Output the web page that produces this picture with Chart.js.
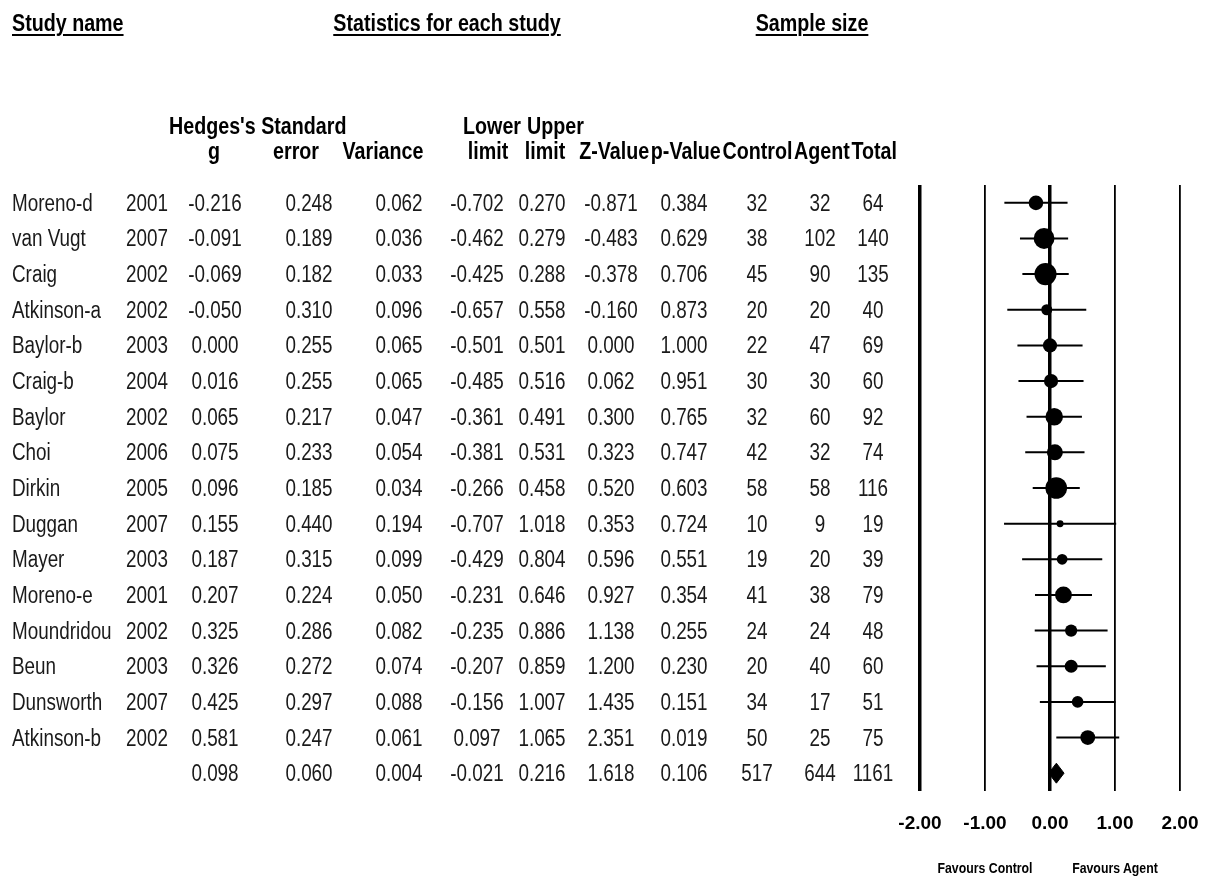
<!DOCTYPE html>
<html>
<head>
<meta charset="utf-8">
<script src="https://cdn.jsdelivr.net/npm/chart.js@4.4.1/dist/chart.umd.min.js"></script>
<style>
  body { margin:0; background:#fff; }
  #wrap { position:relative; width:1216px; height:877px; overflow:hidden;
          font-family:"Liberation Sans",Arial,sans-serif; color:#1a1a1a; }
  #forest { position:absolute; left:0; top:0; }
  .t { position:absolute; white-space:nowrap; font-size:23px; line-height:1;
       transform:translate(-50%,-50%) scaleX(0.82); }
  .l { transform-origin:0 50%; transform:translate(0,-50%) scaleX(0.82); }
  .r { transform-origin:100% 50%; transform:translate(-100%,-50%) scaleX(0.82); }
  .b { font-weight:bold; color:#000; font-size:24px; }
  .h { text-decoration:underline; text-decoration-thickness:2px; text-underline-offset:3px; }
  .fav { font-size:15px; }
  .run span { margin-left:2px; }
</style>
</head>
<body>
<div id="wrap"><canvas id="forest" width="1216" height="877"></canvas></div>
<script>
// Forest plot: Hedges's g por estudio (Control vs Agent)

const studyNames = ['Moreno-d','van Vugt','Craig','Atkinson-a','Baylor-b','Craig-b','Baylor','Choi',
  'Dirkin','Duggan','Mayer','Moreno-e','Moundridou','Beun','Dunsworth','Atkinson-b'];
const studyYears = [2001,2007,2002,2002,2003,2004,2002,2006,2005,2007,2003,2001,2002,2003,2007,2002];
const hedgesG   = [-0.216,-0.091,-0.069,-0.050,0.000,0.016,0.065,0.075,0.096,0.155,0.187,0.207,0.325,0.326,0.425,0.581];
const stdError  = [0.248,0.189,0.182,0.310,0.255,0.255,0.217,0.233,0.185,0.440,0.315,0.224,0.286,0.272,0.297,0.247];
const variance  = [0.062,0.036,0.033,0.096,0.065,0.065,0.047,0.054,0.034,0.194,0.099,0.050,0.082,0.074,0.088,0.061];
const lowerLimit = [-0.702,-0.462,-0.425,-0.657,-0.501,-0.485,-0.361,-0.381,-0.266,-0.707,-0.429,-0.231,-0.235,-0.207,-0.156,0.097];
const upperLimit = [0.270,0.279,0.288,0.558,0.501,0.516,0.491,0.531,0.458,1.018,0.804,0.646,0.886,0.859,1.007,1.065];
const zValue    = [-0.871,-0.483,-0.378,-0.160,0.000,0.062,0.300,0.323,0.520,0.353,0.596,0.927,1.138,1.200,1.435,2.351];
const pValue    = [0.384,0.629,0.706,0.873,1.000,0.951,0.765,0.747,0.603,0.724,0.551,0.354,0.255,0.230,0.151,0.019];
const nControl  = [32,38,45,20,22,30,32,42,58,10,19,41,24,20,34,50];
const nAgent    = [32,102,90,20,47,30,60,32,58,9,20,38,24,40,17,25];
const nTotal    = [64,140,135,40,69,60,92,74,116,19,39,79,48,60,51,75];

// fila resumen (efecto combinado)
const summaryStats = [0.098,0.060,0.004,-0.021,0.216,1.618,0.106]; // g, se, var, lower, upper, z, p
const summaryN = [517,644,1161];

const axisTicks = [-2,-1,0,1,2];
const favourLabels = ['Favours Control','Favours Agent'];

const summaryRow = studyNames.length;

//-----DATASETS
let ciData = [];
for (let i = 0; i < studyNames.length; i++) {
  ciData.push({x: lowerLimit[i], y: i}, {x: upperLimit[i], y: i}, {x: null, y: null});
}
let pointData = hedgesG.map((g, i) => ({x: g, y: i}));
// tamaño del marcador segun peso (1/varianza)
let pointSizes = variance.map(v => 1.2 * Math.pow(1 / v, 0.65));

let dh = 0.28;
let diamondData = [
  {x: summaryStats[3], y: summaryRow},
  {x: summaryStats[0], y: summaryRow - dh},
  {x: summaryStats[4], y: summaryRow},
  {x: summaryStats[0], y: summaryRow + dh},
  {x: summaryStats[3], y: summaryRow}
];

//-----GRAPHIC
const ctx = document.getElementById('forest').getContext('2d');
const chart = new Chart(ctx, {
  type: 'scatter',
  data: {
    datasets: [
      {
        type: 'scatter',
        data: pointData,
        pointRadius: pointSizes,
        pointHoverRadius: pointSizes,
        backgroundColor: '#000',
        borderWidth: 0,
        order: 1
      },
      {
        type: 'line',
        data: ciData,
        borderColor: '#000',
        borderWidth: 2,
        pointRadius: 0,
        spanGaps: false,
        tension: 0,
        order: 2
      },
      {
        type: 'line',
        data: diamondData,
        borderColor: '#000',
        backgroundColor: '#000',
        borderWidth: 1,
        pointRadius: 0,
        fill: 'shape',
        tension: 0,
        order: 1
      }
    ]
  },
  options: {
    responsive: false,
    animation: false,
    devicePixelRatio: 1,
    layout: { padding: { left: 920, right: 36, top: 185, bottom: 0 } },
    plugins: { legend: { display: false }, tooltip: { enabled: false } },
    scales: {
      x: {
        type: 'linear', min: -2, max: 2,
        afterBuildTicks: s => { s.ticks = axisTicks.map(v => ({value: v})); },
        afterFit: s => { s.height = 86; s.paddingLeft = 0; s.paddingRight = 0; },
        ticks: {
          callback: v => v.toFixed(2),
          font: { family: '"Liberation Sans", Arial, sans-serif', size: 19, weight: 'bold' },
          color: '#000', padding: 21, maxRotation: 0, autoSkip: false
        },
        grid: {
          color: '#000',
          lineWidth: c => (c.tick && (c.tick.value === 0 || c.tick.value === -2)) ? 3.5 : 1.8,
          drawTicks: false
        },
        border: { display: false }
      },
      y: { type: 'linear', reverse: true, min: -0.5, max: 16.5, display: false }
    }
  }
});

//-----TABLE TEXT
const wrap = document.getElementById('wrap');
function addText(txt, x, y, cls) {
  let d = document.createElement('div');
  d.className = 't ' + (cls || '');
  d.style.left = x + 'px';
  d.style.top = y + 'px';
  d.textContent = txt;
  wrap.appendChild(d);
  return d;
}

// titulos
addText('Study name', 12, 23, 'l b h');
addText('Statistics for each study', 447, 23, 'b h');
addText('Sample size', 812, 23, 'b h');

// encabezados de columna
let h1 = 126, h2 = 151;
addText("Hedges's Standard", 169, h1, 'l b');
addText('Lower', 521, h1, 'r b');
addText('Upper', 527, h1, 'l b');
addText('g', 214, h2, 'b');
addText('error', 296, h2, 'b');
addText('Variance', 383, h2, 'b');
addText('limit', 488, h2, 'b');
addText('limit', 545, h2, 'b');
let run = addText('', 897, h2, 'r b run');
['Z-Value','p-Value','Control','Agent','Total'].forEach(w => {
  let s = document.createElement('span');
  s.textContent = w;
  run.appendChild(s);
});

const colX = [147, 215, 309, 399, 477, 542, 611, 684, 757, 820, 873];
const yScale = chart.scales.y;
for (let i = 0; i < studyNames.length; i++) {
  let y = yScale.getPixelForValue(i);
  addText(studyNames[i], 12, y, 'l');
  let vals = [studyYears[i], hedgesG[i].toFixed(3), stdError[i].toFixed(3), variance[i].toFixed(3),
    lowerLimit[i].toFixed(3), upperLimit[i].toFixed(3), zValue[i].toFixed(3), pValue[i].toFixed(3),
    nControl[i], nAgent[i], nTotal[i]];
  vals.forEach((v, k) => addText(String(v), colX[k], y));
}
let ys = yScale.getPixelForValue(summaryRow);
summaryStats.forEach((v, k) => addText(v.toFixed(3), colX[k + 1], ys));
summaryN.forEach((v, k) => addText(String(v), colX[k + 8], ys));

// etiquetas favours
const xScale = chart.scales.x;
addText(favourLabels[0], xScale.getPixelForValue(-1), 867, 'b fav');
addText(favourLabels[1], xScale.getPixelForValue(1), 867, 'b fav');
</script>
</body>
</html>
